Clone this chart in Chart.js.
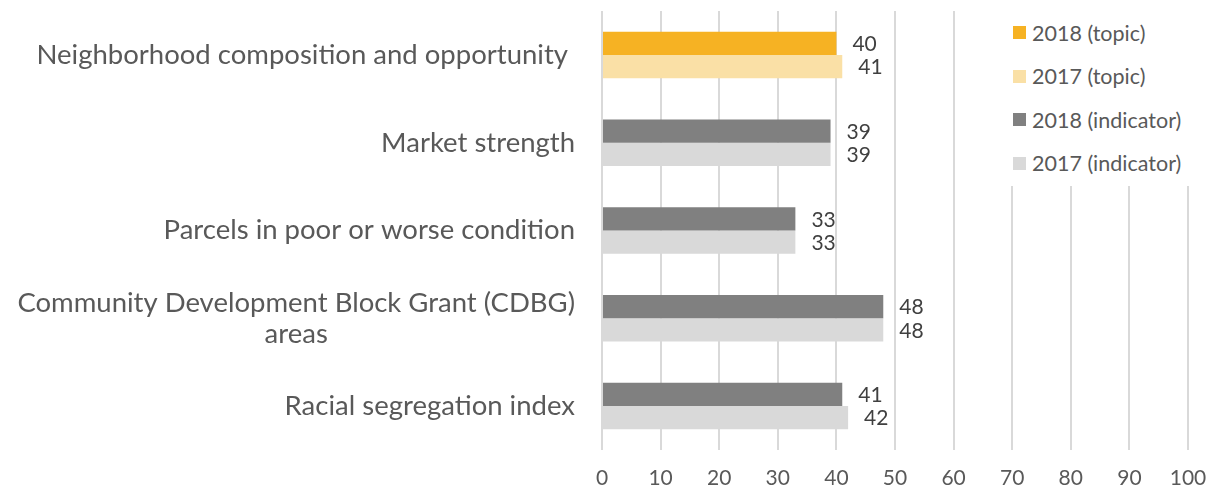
<!DOCTYPE html>
<html>
<head>
<meta charset="utf-8">
<script src="https://cdn.jsdelivr.net/npm/chart.js@4"></script>
<style>
    html, body { margin: 0; padding: 0; background: #fff; }
    #wrap { position: relative; width: 1212px; height: 491px; }
    #legend {
        position: absolute; left: 1000px; top: 0; width: 212px; height: 186px;
        background: #fff; padding-top: 11px; box-sizing: border-box;
        font-family: Lato, "Open Sans", sans-serif; font-size: 21.5px; color: #595959;
    }
    #legend div { height: 43.5px; display: flex; align-items: center; }
    #legend span.box { width: 13px; height: 13px; margin-left: 13px; margin-right: 6px; }
</style>
</head>
<body>
<div id="wrap">
    <canvas id="chart" width="1212" height="491"></canvas>
    <div id="legend"></div>
</div>
<script>
const categories = [
    "Neighborhood composition and opportunity ",
    "Market strength",
    "Parcels in poor or worse condition",
    ["Community Development Block Grant (CDBG)", "areas"],
    "Racial segregation index"
];
const topic2018 = [40, null, null, null, null];
const topic2017 = [41, null, null, null, null];
const indicator2018 = [null, 39, 33, 48, 41];
const indicator2017 = [null, 39, 33, 48, 42];
const xTicks = [0, 10, 20, 30, 40, 50, 60, 70, 80, 90, 100];

const FONT = "Lato, 'Open Sans', sans-serif";
const TEXT = "#595959";

// category labels, drawn by hand so a wrapped label centres its lines
const categoryLabels = {
    id: "categoryLabels",
    afterDraw(chart) {
        const ctx = chart.ctx;
        const y = chart.scales.y;
        const right = chart.chartArea.left - 27;
        ctx.save();
        ctx.font = "27.5px " + FONT;
        ctx.fillStyle = TEXT;
        ctx.textBaseline = "middle";
        categories.forEach((label, i) => {
            const lines = Array.isArray(label) ? label : [label];
            const cy = y.getPixelForValue(i);
            const lh = 31;
            const widest = Math.max(...lines.map(l => ctx.measureText(l).width));
            const mid = right - widest / 2;
            lines.forEach((line, j) => {
                const ly = cy + (j - (lines.length - 1) / 2) * lh;
                ctx.textAlign = lines.length > 1 ? "center" : "right";
                ctx.fillText(line, lines.length > 1 ? mid : right, ly);
            });
        });
        ctx.restore();
    }
};

// value labels at the end of each bar
const valueLabels = {
    id: "valueLabels",
    afterDatasetsDraw(chart) {
        const ctx = chart.ctx;
        ctx.save();
        ctx.font = "21px " + FONT;
        ctx.fillStyle = "#404040";
        ctx.textAlign = "left";
        ctx.textBaseline = "middle";
        chart.data.datasets.forEach((ds, di) => {
            chart.getDatasetMeta(di).data.forEach((bar, i) => {
                if (ds.data[i] == null) return;
                ctx.fillText(ds.data[i], bar.x + 16, bar.y + 1);
            });
        });
        ctx.restore();
    }
};

const chart = new Chart(document.getElementById("chart"), {
    type: "bar",
    data: {
        labels: categories,
        datasets: [
            { label: "2018 (topic)", data: topic2018, backgroundColor: "#F6B223", stack: "a" },
            { label: "2017 (topic)", data: topic2017, backgroundColor: "#FAE0A6", stack: "b" },
            { label: "2018 (indicator)", data: indicator2018, backgroundColor: "#808080", stack: "a" },
            { label: "2017 (indicator)", data: indicator2017, backgroundColor: "#D9D9D9", stack: "b" }
        ]
    },
    options: {
        indexAxis: "y",
        responsive: false,
        animation: false,
        categoryPercentage: 0.53,
        barPercentage: 1,
        layout: { padding: { top: 11, right: 24, left: 0, bottom: 0 } },
        plugins: {
            legend: { display: false },
            tooltip: { enabled: false }
        },
        scales: {
            x: {
                stacked: true,
                min: 0,
                max: 100,
                afterBuildTicks: scale => { scale.ticks = xTicks.map(v => ({ value: v })); },
                afterFit: scale => {
                    scale.height = 41;
                    scale.paddingLeft = 0;
                    scale.paddingRight = 0;
                },
                grid: { color: "#D9D9D9", lineWidth: 2, drawTicks: false },
                border: { display: false },
                ticks: { color: TEXT, font: { family: FONT, size: 21 }, padding: 16 }
            },
            y: {
                stacked: true,
                afterFit: scale => { scale.width = 602; },
                grid: { display: false },
                border: { display: false },
                ticks: { display: false }
            }
        }
    },
    plugins: [categoryLabels, valueLabels]
});

// legend built from the datasets
const legend = document.getElementById("legend");
chart.data.datasets.forEach(ds => {
    const row = document.createElement("div");
    const box = document.createElement("span");
    box.className = "box";
    box.style.background = ds.backgroundColor;
    row.appendChild(box);
    row.appendChild(document.createTextNode(ds.label));
    legend.appendChild(row);
});
</script>
</body>
</html>
